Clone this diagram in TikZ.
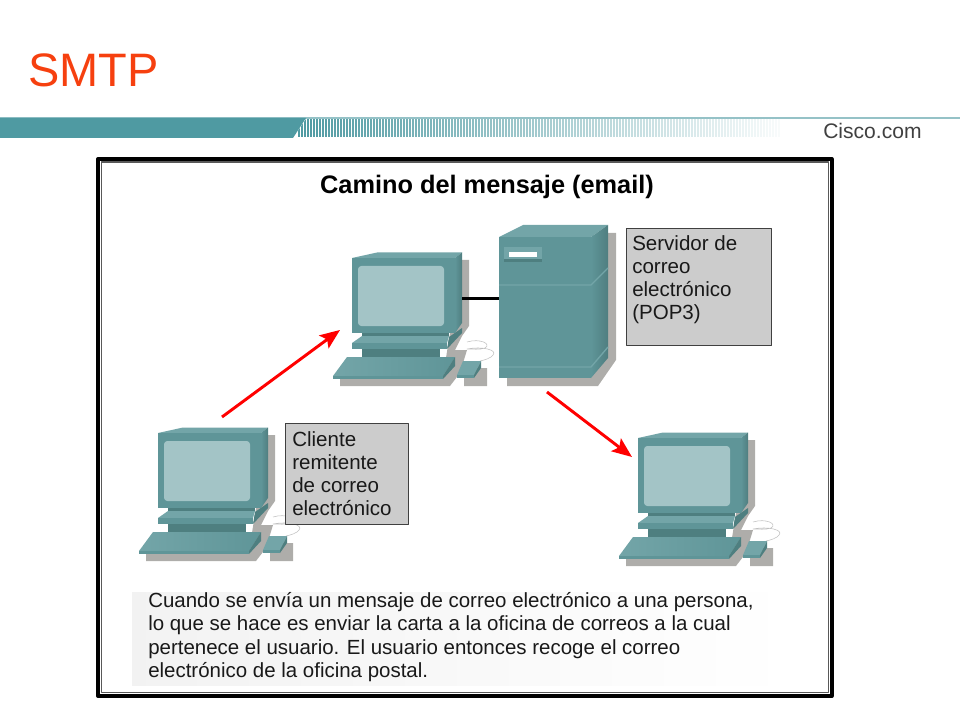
\documentclass[tikz,border=0pt]{standalone}
\usepackage{fontspec}
\setmainfont{Liberation Sans}
\usetikzlibrary{arrows.meta}
\definecolor{barteal}{HTML}{4F9AA2}
\definecolor{pcfront}{HTML}{5F9598}
\definecolor{pctop}{HTML}{73A5A8}
\definecolor{pcside}{HTML}{4F7E80}
\definecolor{pcdark}{HTML}{4E7F80}
\definecolor{pcscreen}{HTML}{A3C4C6}
\definecolor{pcshadow}{HTML}{AEADAA}
\definecolor{titlered}{HTML}{F6400F}
\tikzset{
	infobox/.style={draw=black!75,line width=1pt,fill=black!20,inner sep=0pt,anchor=north west},
	infotext/.style={anchor=north west,inner sep=0pt,align=left,text=black!90,font=\fontsize{15.4}{17.3}\selectfont},
	msgarrow/.style={draw=red,line width=2.2pt,-{Stealth[length=15pt,width=12pt,inset=3pt]}},
	computer/.pic={
		% shadows
		\fill[pcshadow] (110,2)--(117,2)--(117,68)--(110,78)--(103,92)--(115,92)--(108,115)--(98,128)--(-12,128)--(-12,121)--(92,112)--cycle;
		\fill[pcshadow] (112,128)--(135,128)--(135,110)--(125,110)--(112,120)--cycle;
		% cable
		\draw[black!25,line width=.4pt] (115,84) .. controls (128,80) and (140,86) .. (133,90) .. controls (128,92) and (120,91) .. (115,91) .. controls (130,88) and (146,92) .. (141,97) .. controls (139,100) and (133,102) .. (128,103);
		% monitor
		\fill[pctop] (0,0)--(25,-5.5)--(110,-5.5)--(103,0)--cycle;
		\shade[left color=pcfront,right color=pcside] (103,0)--(110,-5.5)--(110,65)--(103,75)--cycle;
		\fill[pcfront] (0,0) rectangle (103,75);
		\fill[pcscreen,rounded corners=2.5pt] (6,8) rectangle (92,68);
		% base and neck
		\fill[pcdark] (10,75) rectangle (97,79);
		\fill[pcdark] (97,79)--(110,70)--(110,75)--(95,91)--cycle;
		\fill[pctop] (0,85)--(10,78)--(97,78)--(95,85)--cycle;
		\fill[pcfront] (0,85) rectangle (95,91);
		\fill[pcdark] (10,91) rectangle (88,99);
		% keyboard
		\shade[left color=pctop,right color=pcfront] (-19,118)--(-5,99)--(103,99)--(91,118)--cycle;
		\fill[pcfront] (-19,118) rectangle (91,121);
		\fill[pcdark] (91,121)--(91,118)--(103,99)--(103,108)--cycle;
		% mouse
		\fill[pctop] (105,117)--(111,103)--(129,103)--(122,117)--cycle;
		\fill[pcfront] (105,117) rectangle (122,120);
		\fill[pcdark] (122,120)--(122,117)--(129,103)--(129,110)--cycle;
	}
}
\begin{document}
\begin{tikzpicture}[x=.75pt,y=-.75pt,line join=round]
	\useasboundingbox (0,0) rectangle (960,720);
	\node[anchor=base west,inner sep=0pt,text=titlered,font=\fontsize{35.2}{40}\selectfont] (slidetitle) at (28,87) {SMTP};
	%banner
	\fill[barteal!60] (0,117) rectangle (960,119);
	\fill[barteal] (0,118) -- (306,118) -- (293,138) -- (0,138) -- cycle;
	\foreach \i in {0,...,160}{
		\pgfmathsetmacro{\xpos}{298+3*\i}
		\pgfmathsetmacro{\ink}{100-0.6*\i}
		\begin{scope}
			\clip (306,119) -- (960,119) -- (960,138) -- (293,138) -- cycle;
			\fill[barteal!\ink!white] (\xpos,119) rectangle (\xpos+1.7,137);
		\end{scope}
	}
	\node[anchor=base west,inner sep=0pt,text=black!75,font=\fontsize{15.8}{18}\selectfont] (ciscotext) at (823,139) {Cisco.com};
	%frame
	\draw[line width=3pt] (98,159) rectangle (831.5,696);
	\draw[black!65,line width=.8pt] (101.5,162) rectangle (828.5,692.5);
	\node[font=\bfseries\fontsize{19}{22}\selectfont] (figtitle) at (487,187) {Camino del mensaje (email)};
	%text band
	\shade[left color=black!5,right color=white] (132,592) rectangle (793,685);
	\node[anchor=base west,inner sep=0pt,align=left,text=black!90,font=\fontsize{15.35}{17.5}\selectfont] (caption) at (148,677.5) {Cuando se envía un mensaje de correo electrónico a una persona,\\
		lo que se hace es enviar la carta a la oficina de correos a la cual\\
		pertenece el usuario. El usuario entonces recoge el correo\\
		electrónico de la oficina postal.};
	%computers
	\pic at (158,433) {computer};
	\pic at (352,258) {computer};
	\pic at (638,438) {computer};
	%server
	\fill[pcshadow] (608,233)--(616,233)--(616,360)--(598,386)--(507,386)--(507,378)--(591,378)--cycle;
	\fill[pctop] (499,237)--(523,225)--(608,225)--(591,237)--cycle;
	\shade[left color=pcfront,right color=pcside] (591,237)--(608,225)--(608,358)--(591,378)--cycle;
	\fill[pcfront] (499,237) rectangle (591,378);
	\draw[pctop,line width=1pt] (499,285)--(591,285)--(608,268);
	\draw[pctop,line width=1pt] (499,367)--(591,367)--(608,347);
	\fill[pctop] (504,247) rectangle (542,262);
	\fill[pcdark] (504,259) rectangle (542,262);
	\fill[white] (509,252) rectangle (537,257);
	%boxes
	\node[infobox,minimum width=108.75pt,minimum height=87.75pt] (serverbox) at (626,228) {};
	\node[infotext] (servertext) at (632,235) {Servidor de\\correo\\electrónico\\(POP3)};
	\node[infobox,minimum width=92.25pt,minimum height=75.75pt] (clientbox) at (285,423) {};
	\node[infotext] (clienttext) at (292,431) {Cliente\\remitente\\de correo\\electrónico};
	%connectors
	\coordinate (senderout) at (222,417);
	\coordinate (relayin) at (340,330);
	\coordinate (serverout) at (547,392);
	\coordinate (receiverin) at (632,457);
	\coordinate (relayport) at (462,298.5);
	\coordinate (serverport) at (499,298.5);
	\draw[line width=2.6pt] (relayport)--(serverport);
	\draw[msgarrow] (senderout)--(relayin);
	\draw[msgarrow] (serverout)--(receiverin);
\end{tikzpicture}
\end{document}
